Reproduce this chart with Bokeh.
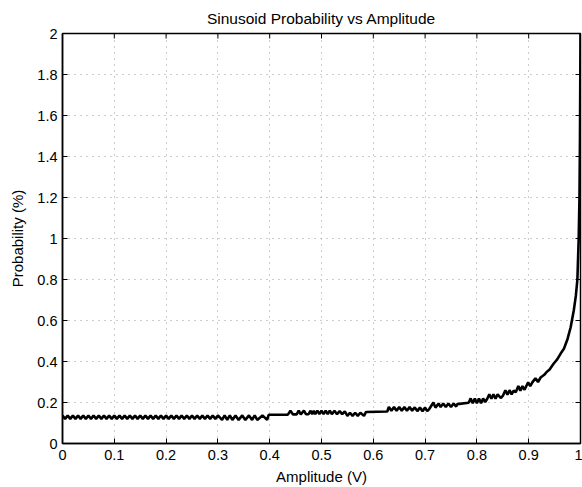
import math
from bokeh.plotting import figure
from bokeh.models import FixedTicker, Range1d
from bokeh.embed import file_html
from bokeh.resources import INLINE

# ---- data ----
amp = [
    0.000, 0.005, 0.010, 0.015, 0.020, 0.025, 0.030, 0.035, 0.040, 0.045,
    0.050, 0.055, 0.060, 0.065, 0.070, 0.075, 0.080, 0.085, 0.090, 0.095,
    0.100, 0.105, 0.110, 0.115, 0.120, 0.125, 0.130, 0.135, 0.140, 0.145,
    0.150, 0.155, 0.160, 0.165, 0.170, 0.175, 0.180, 0.185, 0.190, 0.195,
    0.200, 0.205, 0.210, 0.215, 0.220, 0.225, 0.230, 0.235, 0.240, 0.245,
    0.250, 0.255, 0.260, 0.265, 0.270, 0.275, 0.280, 0.285, 0.290, 0.295,
    0.300,
    0.308, 0.313, 0.318, 0.323, 0.328, 0.334, 0.340, 0.347, 0.353, 0.360,
    0.366, 0.371, 0.376, 0.386, 0.395, 0.398,
    0.400, 0.435, 0.440, 0.445, 0.452, 0.456, 0.460, 0.466, 0.470, 0.475,
    0.479, 0.482, 0.485, 0.488, 0.492, 0.496, 0.500, 0.504, 0.508, 0.512,
    0.516, 0.520, 0.525, 0.530, 0.535, 0.540, 0.545, 0.550, 0.555, 0.560,
    0.565, 0.570, 0.575, 0.582, 0.586, 0.627,
    0.630, 0.635, 0.640, 0.645, 0.650, 0.655, 0.660, 0.665, 0.670, 0.675,
    0.680, 0.685, 0.690, 0.695, 0.700, 0.704, 0.708, 0.716, 0.720,
    0.726, 0.730, 0.735, 0.740, 0.745, 0.750, 0.755, 0.760, 0.762, 0.784,
    0.788, 0.792, 0.796, 0.800, 0.804, 0.808, 0.812, 0.816,
    0.820, 0.824, 0.828, 0.832, 0.836, 0.840, 0.846, 0.850,
    0.855, 0.859, 0.863, 0.867, 0.871, 0.875,
    0.880, 0.884, 0.888, 0.892, 0.895,
    0.899, 0.903, 0.907, 0.913, 0.918, 0.923,
    0.930, 0.935, 0.940, 0.948, 0.955, 0.962, 0.968, 0.975, 0.981, 0.987,
    0.991, 0.994, 0.9965, 0.998, 0.999, 1.000,
]
prob = [
    0.137, 0.120, 0.137, 0.120, 0.137, 0.120, 0.137, 0.120, 0.137, 0.120,
    0.137, 0.120, 0.137, 0.120, 0.137, 0.120, 0.137, 0.120, 0.137, 0.120,
    0.137, 0.120, 0.137, 0.120, 0.137, 0.120, 0.137, 0.120, 0.137, 0.120,
    0.137, 0.120, 0.137, 0.120, 0.137, 0.120, 0.137, 0.120, 0.137, 0.120,
    0.137, 0.120, 0.137, 0.120, 0.137, 0.120, 0.137, 0.120, 0.137, 0.120,
    0.137, 0.120, 0.137, 0.120, 0.137, 0.120, 0.137, 0.120, 0.137, 0.120,
    0.137,
    0.115, 0.137, 0.115, 0.137, 0.115, 0.137, 0.115, 0.137, 0.115, 0.137,
    0.115, 0.137, 0.115, 0.137, 0.115, 0.139,
    0.140, 0.141, 0.160, 0.142, 0.142, 0.160, 0.142, 0.160, 0.143, 0.143,
    0.160, 0.143, 0.160, 0.143, 0.160, 0.143, 0.160, 0.143, 0.160, 0.143,
    0.160, 0.143, 0.160, 0.143, 0.158, 0.143, 0.157, 0.135, 0.150, 0.135,
    0.150, 0.135, 0.150, 0.135, 0.154, 0.156,
    0.178, 0.160, 0.178, 0.160, 0.178, 0.160, 0.178, 0.160, 0.178, 0.160,
    0.176, 0.158, 0.175, 0.158, 0.175, 0.158, 0.168, 0.200, 0.175,
    0.195, 0.178, 0.195, 0.178, 0.195, 0.178, 0.195, 0.180, 0.192, 0.199,
    0.220, 0.196, 0.220, 0.196, 0.220, 0.196, 0.220, 0.202,
    0.218, 0.240, 0.218, 0.240, 0.218, 0.240, 0.222, 0.232,
    0.260, 0.238, 0.260, 0.240, 0.258, 0.250,
    0.280, 0.258, 0.280, 0.262, 0.278,
    0.298, 0.280, 0.298, 0.318, 0.300, 0.322,
    0.335, 0.350, 0.360, 0.389, 0.410, 0.440, 0.462, 0.510, 0.567, 0.649,
    0.720, 0.800, 1.000, 1.200, 1.500, 2.000,
]

x_ticks = [0, 0.1, 0.2, 0.3, 0.4, 0.5, 0.6, 0.7, 0.8, 0.9, 1]
x_tick_labels = ["0", "0.1", "0.2", "0.3", "0.4", "0.5", "0.6", "0.7", "0.8", "0.9", "1"]
y_ticks = [0, 0.2, 0.4, 0.6, 0.8, 1.0, 1.2, 1.4, 1.6, 1.8, 2.0]
y_tick_labels = ["0", "0.2", "0.4", "0.6", "0.8", "1", "1.2", "1.4", "1.6", "1.8", "2"]

title_text = "Sinusoid Probability vs Amplitude"
x_label = "Amplitude (V)"
y_label = "Probability (%)"

FONT = "Liberation Sans"

p = figure(
    width=582, height=487,
    x_range=Range1d(min(x_ticks), max(x_ticks)),
    y_range=Range1d(min(y_ticks), max(y_ticks)),
    output_backend="svg", toolbar_location=None,
    min_border_left=62, min_border_right=2, min_border_top=33, min_border_bottom=44,
    title=title_text,
)
p.background_fill_color = "white"
p.border_fill_color = "white"
p.outline_line_color = "black"
p.outline_line_width = 1.5

p.title.align = "center"
p.title.text_font = FONT
p.title.text_font_size = "15.5px"
p.title.text_font_style = "normal"
p.title.text_color = "black"
p.title.standoff = 13

for ax, ticks, labels in ((p.xaxis[0], x_ticks, x_tick_labels), (p.yaxis[0], y_ticks, y_tick_labels)):
    ax.ticker = FixedTicker(ticks=ticks)
    ax.major_label_overrides = {t: l for t, l in zip(ticks, labels)}
    ax.minor_tick_line_color = None
    ax.major_tick_in = 5
    ax.major_tick_out = 0
    ax.major_tick_line_color = "black"
    ax.major_tick_line_width = 1
    ax.axis_line_color = "black"
    ax.axis_line_width = 1.5
    ax.major_label_text_font = FONT
    ax.major_label_text_font_size = "14.5px"
    ax.major_label_text_color = "black"
    ax.axis_label_text_font = FONT
    ax.axis_label_text_font_size = "15px"
    ax.axis_label_text_font_style = "normal"
    ax.axis_label_text_color = "black"

p.xaxis.axis_label = x_label
p.yaxis.axis_label = y_label
p.xaxis.major_label_standoff = 6
p.xaxis.axis_label_standoff = 5
p.yaxis.major_label_standoff = 5
p.yaxis.axis_label_standoff = 8

for g in (p.xgrid[0], p.ygrid[0]):
    g.grid_line_color = "#9a9a9a"
    g.grid_line_dash = "1 5"
    g.grid_line_width = 1

# inward ticks on the top and right edges of the box
p.scatter(x_ticks, [max(y_ticks)] * len(x_ticks), marker="dash", size=10,
          angle=math.pi / 2, line_color="black", line_width=1)
p.scatter([max(x_ticks)] * len(y_ticks), y_ticks, marker="dash", size=10,
          line_color="black", line_width=1)

p.line(amp, prob, line_color="black", line_width=2.6)

open("out.html", "w").write(file_html(p, INLINE))
